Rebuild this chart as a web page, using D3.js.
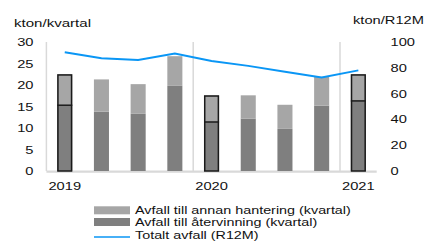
<!DOCTYPE html>
<html>
<head>
<meta charset="utf-8">
<script src="https://cdn.jsdelivr.net/npm/d3@7"></script>
<style>
  html, body { margin: 0; padding: 0; background: #fff; }
  text { font-family: "Liberation Sans", Arial, sans-serif; fill: #111; }
</style>
</head>
<body>
<div id="chart"></div>
<script>
// --------------- Data ---------------
const QUARTERS = ["2019K1", "2019K2", "2019K3", "2019K4", "2020K1", "2020K2", "2020K3", "2020K4", "2021K1"];
const RECYCLING = [15.3, 13.8, 13.3, 19.8, 11.4, 12.2, 9.8, 15.2, 16.3];
const OTHER = [7.2, 7.5, 6.9, 6.9, 6.2, 5.4, 5.6, 6.7, 6.2];
const TOTAL_R12M = [92, 87.4, 86, 91, 85.3, 81.5, 77, 72.5, 78];
const YEAR_LABELS = [["2019K1", "2019"], ["2020K1", "2020"], ["2021K1", "2021"]];
const LEFT_TICKS = [0, 5, 10, 15, 20, 25, 30];
const RIGHT_TICKS = [0, 20, 40, 60, 80, 100];
const LEGEND = [
  { label: "Avfall till annan hantering (kvartal)", type: "rect", color: "#a6a6a6" },
  { label: "Avfall till återvinning (kvartal)", type: "rect", color: "#7f7f7f" },
  { label: "Totalt avfall (R12M)", type: "line", color: "#0a96f5" },
];

// --------------- Constants ---------------
const WIDTH = 424;
const HEIGHT = 241;
const PLOT = { left: 46.4, right: 376.7, top: 42, bottom: 171 };
const STRETCH = 1.3; // text in the reference is drawn wide
const FONT = 11.3;

const svg = d3.select("#chart").append("svg")
  .attr("width", WIDTH)
  .attr("height", HEIGHT);

const X = d3.scaleBand()
  .domain(QUARTERS)
  .range([PLOT.left, PLOT.right])
  .paddingInner(0.59)
  .paddingOuter(0.295);
const Y_LEFT = d3.scaleLinear().domain([0, 30]).range([PLOT.bottom, PLOT.top]);
const Y_RIGHT = d3.scaleLinear().domain([0, 100]).range([PLOT.bottom, PLOT.top]);

const addText = (x, y, str, anchor = "start", size = FONT) =>
  svg.append("text")
    .attr("transform", `translate(${x},${y}) scale(${STRETCH},1)`)
    .attr("text-anchor", anchor)
    .attr("font-size", size)
    .text(str);

// Year separators
const gap = X.step() * X.paddingInner() / 2;
svg.append("g").selectAll("line")
  .data(YEAR_LABELS)
  .join("line")
  .attr("x1", ([q]) => X(q) - gap)
  .attr("x2", ([q]) => X(q) - gap)
  .attr("y1", PLOT.top)
  .attr("y2", PLOT.bottom)
  .attr("stroke", "#d9d9d9")
  .attr("stroke-width", 1.5);

// Baseline
svg.append("line")
  .attr("x1", PLOT.left).attr("x2", PLOT.right)
  .attr("y1", PLOT.bottom + 0.6).attr("y2", PLOT.bottom + 0.6)
  .attr("stroke", "#d9d9d9")
  .attr("stroke-width", 2.4);

// Stacked bars
const rows = QUARTERS.map((q, i) => ({ q, rec: RECYCLING[i], other: OTHER[i] }));
const outlined = new Set(YEAR_LABELS.map(([q]) => q));
const bars = svg.append("g");
rows.forEach((d) => {
  const x = X(d.q);
  const w = X.bandwidth();
  const yRec = Y_LEFT(d.rec);
  const yTop = Y_LEFT(d.rec + d.other);
  bars.append("rect")
    .attr("x", x).attr("width", w)
    .attr("y", yRec).attr("height", PLOT.bottom - yRec)
    .attr("fill", "#7f7f7f");
  bars.append("rect")
    .attr("x", x).attr("width", w)
    .attr("y", yTop).attr("height", yRec - yTop)
    .attr("fill", "#a6a6a6");
  if (outlined.has(d.q)) {
    bars.append("rect")
      .attr("x", x + 0.7).attr("width", w - 1.4)
      .attr("y", yTop + 0.7).attr("height", PLOT.bottom - yTop - 0.7)
      .attr("fill", "none")
      .attr("stroke", "#1a1a1a")
      .attr("stroke-width", 1.5);
    bars.append("line")
      .attr("x1", x).attr("x2", x + w)
      .attr("y1", yRec).attr("y2", yRec)
      .attr("stroke", "#1a1a1a")
      .attr("stroke-width", 1.5);
  }
});

// R12M line
const line = d3.line()
  .x((d, i) => X(QUARTERS[i]) + X.bandwidth() / 2)
  .y((d) => Y_RIGHT(d));
svg.append("path")
  .datum(TOTAL_R12M)
  .attr("d", line)
  .attr("fill", "none")
  .attr("stroke", "#0a96f5")
  .attr("stroke-width", 2);

// Axis labels
LEFT_TICKS.forEach((t) => addText(33.5, Y_LEFT(t) + 4, t, "end"));
RIGHT_TICKS.forEach((t) => addText(390.5, Y_RIGHT(t) + 4, t, "start"));
YEAR_LABELS.forEach(([q, label]) => addText(X(q) + X.bandwidth() / 2, 190, label, "middle"));

// Titles
addText(14, 26.5, "kton/kvartal", "start", 11.6);
addText(353, 24, "kton/R12M");

// Legend
const LEGEND_Y = [210.3, 222, 234.5];
LEGEND.forEach((item, i) => {
  const cy = LEGEND_Y[i];
  if (item.type === "rect") {
    svg.append("rect")
      .attr("x", 94).attr("width", 36)
      .attr("y", cy - 4).attr("height", 8)
      .attr("fill", item.color);
  } else {
    svg.append("line")
      .attr("x1", 94).attr("x2", 130)
      .attr("y1", cy + 2.5).attr("y2", cy + 2.5)
      .attr("stroke", item.color)
      .attr("stroke-width", 1.5);
  }
  addText(135, cy + 4, item.label, "start", 11.05);
});
</script>
</body>
</html>
